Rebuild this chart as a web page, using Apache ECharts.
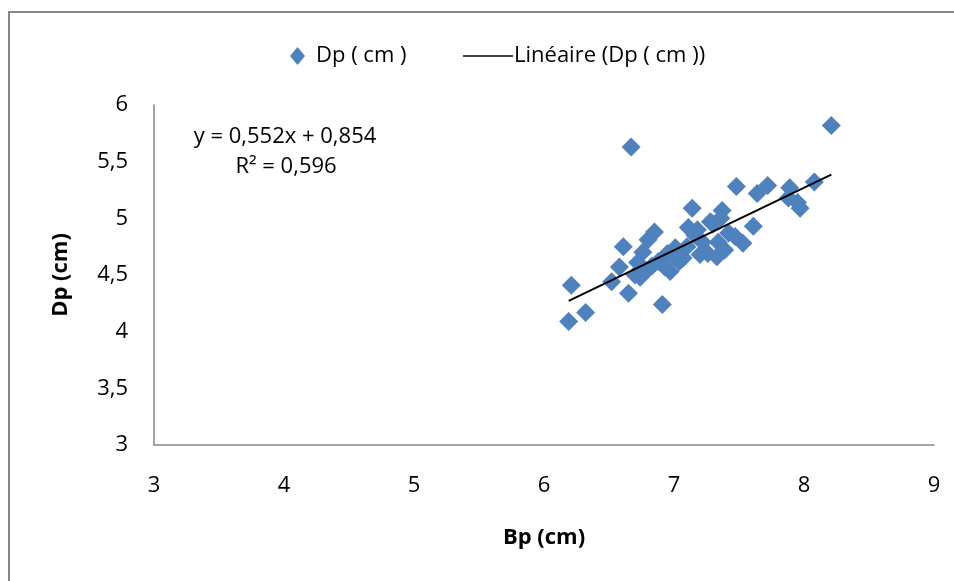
<!DOCTYPE html>
<html>
<head>
<meta charset="utf-8">
<script src="https://cdn.jsdelivr.net/npm/echarts@6/dist/echarts.min.js"></script>
<style>html,body{margin:0;padding:0;background:#fff;}#c{width:954px;height:581px;}</style>
</head>
<body>
<div id="c"></div>
<script>
// Data
var bpValues = [6.19,6.21,6.32,6.52,6.58,6.61,6.65,6.67,6.70,6.72,6.74,6.76,6.79,6.80,6.83,6.85,6.88,6.91,6.93,6.95,6.97,7.00,7.01,7.04,7.07,7.10,7.11,7.14,7.16,7.18,7.20,7.22,7.26,7.28,7.30,7.33,7.34,7.36,7.37,7.39,7.42,7.47,7.48,7.53,7.61,7.64,7.72,7.88,7.89,7.95,7.97,8.08,8.21];
var dpValues = [4.09,4.41,4.17,4.44,4.57,4.75,4.34,5.63,4.50,4.61,4.48,4.70,4.54,4.81,4.58,4.88,4.62,4.24,4.57,4.69,4.53,4.66,4.74,4.62,4.65,4.75,4.92,5.09,4.85,4.90,4.68,4.79,4.69,4.97,4.95,4.66,4.79,5.00,5.07,4.72,4.87,4.84,5.28,4.78,4.93,5.22,5.29,5.18,5.27,5.14,5.09,5.32,5.82];
var trendSlope = 0.552;
var trendIntercept = 0.854;
var xTicks = [3,4,5,6,7,8,9];
var yTicks = ['3','3,5','4','4,5','5','5,5','6'];
var equationLines = ['y = 0,552x + 0,854', 'R\u00B2 = 0,596'];

var scatterData = bpValues.map(function(x,i){return [x, dpValues[i]];});
var xMin = Math.min.apply(null, bpValues), xMax = Math.max.apply(null, bpValues);
var trendData = [[xMin, trendSlope*xMin+trendIntercept],[xMax, trendSlope*xMax+trendIntercept]];

var FONT = 'Open Sans';
var FS = 22;
var chart = echarts.init(document.getElementById('c'));
chart.setOption({
  animation: false,
  backgroundColor: '#fff',
  textStyle: {fontFamily: FONT},
  graphic: [
    {type:'rect', shape:{x:9,y:12,width:980,height:620}, style:{fill:'none', stroke:'#868686', lineWidth:2}, silent:true},
    {type:'text', x:285, y:137, style:{text:equationLines[0], font:FS+'px "Open Sans"', fill:'#000', align:'center', verticalAlign:'middle'}},
    {type:'text', x:286, y:167, style:{text:equationLines[1], font:FS+'px "Open Sans"', fill:'#000', align:'center', verticalAlign:'middle'}}
  ],
  legend: [
    {data:[{name:'Dp ( cm )', icon:'diamond'}], left:285, top:40, itemWidth:15, itemHeight:18, itemGap:0,
     textStyle:{fontSize:FS, fontFamily:FONT, color:'#000', padding:[0,0,0,6]}},
    {data:[{name:'Lin\u00E9aire (Dp ( cm ))', icon:'rect'}], left:458, top:40, itemWidth:50, itemHeight:1.5, itemGap:0,
     textStyle:{fontSize:FS, fontFamily:FONT, color:'#000', padding:[0,0,0,-4]}}
  ],
  grid: {left:154, right:20, top:105, bottom:136, containLabel:false},
  xAxis: {
    type:'value', min:3, max:9, interval:1,
    name:'Bp (cm)', nameLocation:'middle', nameGap:82,
    nameTextStyle:{fontSize:FS, fontWeight:'bold', fontFamily:FONT, color:'#000'},
    axisLine:{show:true, onZero:false, lineStyle:{color:'#868686', width:1.5}},
    axisTick:{show:false},
    splitLine:{show:false},
    axisLabel:{fontSize:FS, fontFamily:FONT, color:'#000', margin:30,
      formatter:function(v){return String(xTicks[Math.round(v-3)]);}}
  },
  yAxis: {
    type:'value', min:3, max:6, interval:0.5,
    name:'Dp (cm)', nameLocation:'middle', nameGap:82, nameRotate:90,
    nameTextStyle:{fontSize:FS, fontWeight:'bold', fontFamily:FONT, color:'#000'},
    axisLine:{show:true, onZero:false, lineStyle:{color:'#868686', width:1.5}},
    axisTick:{show:false},
    splitLine:{show:false},
    axisLabel:{fontSize:FS, fontFamily:FONT, color:'#000', margin:26,
      formatter:function(v){return yTicks[Math.round((v-3)*2)];}}
  },
  series: [
    {name:'Dp ( cm )', type:'scatter', data:scatterData, symbol:'diamond', symbolSize:[19,19],
     itemStyle:{color:'#4F81BD', opacity:1}, z:2},
    {name:'Lin\u00E9aire (Dp ( cm ))', type:'line', data:trendData, showSymbol:false, symbol:'none',
     lineStyle:{color:'#000', width:2}, itemStyle:{color:'#000'}, z:3}
  ]
});
</script>
</body>
</html>
